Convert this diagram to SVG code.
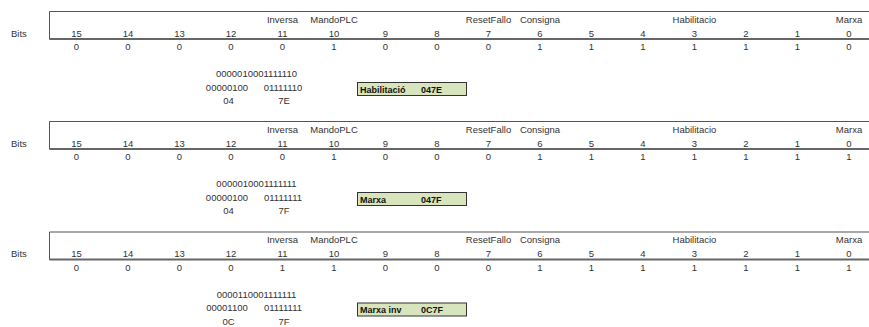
<svg xmlns="http://www.w3.org/2000/svg" width="869" height="327" viewBox="0 0 869 327">
<style>
text{font-family:"Liberation Sans",Arial,sans-serif;font-size:9.5px;fill:#333}
.c{text-anchor:middle}
.b{font-weight:bold;fill:#111;font-size:9px}
.ln{stroke:#555;stroke-width:1;fill:none}
.dl{stroke:#666;stroke-width:1.8;fill:none}
.box{fill:#d8e4bc;stroke:#333;stroke-width:1}
</style>
<defs>
<g id="tbl">
<line class="ln" x1="49.5" y1="11.5" x2="869" y2="11.5"/>
<line class="ln" x1="49.5" y1="11.5" x2="49.5" y2="39.5"/>
<line class="dl" x1="49.5" y1="39" x2="869" y2="39"/>
<text x="11" y="36.5">Bits</text>
<text class="c" x="282.5" y="22.5">Inversa</text>
<text class="c" x="334" y="22.5">MandoPLC</text>
<text class="c" x="488.5" y="22.5">ResetFallo</text>
<text class="c" x="540" y="22.5">Consigna</text>
<text class="c" x="694.5" y="22.5">Habilitacio</text>
<text class="c" x="849" y="22.5">Marxa</text>
<text class="c" x="76.5" y="36.5">15</text>
<text class="c" x="128" y="36.5">14</text>
<text class="c" x="179.5" y="36.5">13</text>
<text class="c" x="231" y="36.5">12</text>
<text class="c" x="282.5" y="36.5">11</text>
<text class="c" x="334" y="36.5">10</text>
<text class="c" x="385.5" y="36.5">9</text>
<text class="c" x="437" y="36.5">8</text>
<text class="c" x="488.5" y="36.5">7</text>
<text class="c" x="540" y="36.5">6</text>
<text class="c" x="591.5" y="36.5">5</text>
<text class="c" x="643" y="36.5">4</text>
<text class="c" x="694.5" y="36.5">3</text>
<text class="c" x="746" y="36.5">2</text>
<text class="c" x="797.5" y="36.5">1</text>
<text class="c" x="849" y="36.5">0</text>
</g>
</defs>

<g id="row1">
<use href="#tbl"/>
<g class="vals">
<text class="c" x="76.5" y="50">0</text><text class="c" x="128" y="50">0</text><text class="c" x="179.5" y="50">0</text><text class="c" x="231" y="50">0</text>
<text class="c" x="282.5" y="50">0</text><text class="c" x="334" y="50">1</text><text class="c" x="385.5" y="50">0</text><text class="c" x="437" y="50">0</text>
<text class="c" x="488.5" y="50">0</text><text class="c" x="540" y="50">1</text><text class="c" x="591.5" y="50">1</text><text class="c" x="643" y="50">1</text>
<text class="c" x="694.5" y="50">1</text><text class="c" x="746" y="50">1</text><text class="c" x="797.5" y="50">1</text><text class="c" x="849" y="50">0</text>
</g>
<text class="c" x="256.5" y="77">0000010001111110</text>
<text class="c" x="227" y="90.5">00000100</text>
<text class="c" x="283" y="90.5">01111110</text>
<text class="c" x="228.5" y="104">04</text>
<text class="c" x="284" y="104">7E</text>
</g>
<g id="box1">
<rect class="box" x="357.5" y="82.5" width="109" height="13"/>
<text class="b" x="360" y="92.5">Habilitació</text>
<text class="b" x="421" y="92.5">047E</text>
</g>

<g id="row2" transform="translate(0,110)">
<use href="#tbl"/>
<g class="vals">
<text class="c" x="76.5" y="50">0</text><text class="c" x="128" y="50">0</text><text class="c" x="179.5" y="50">0</text><text class="c" x="231" y="50">0</text>
<text class="c" x="282.5" y="50">0</text><text class="c" x="334" y="50">1</text><text class="c" x="385.5" y="50">0</text><text class="c" x="437" y="50">0</text>
<text class="c" x="488.5" y="50">0</text><text class="c" x="540" y="50">1</text><text class="c" x="591.5" y="50">1</text><text class="c" x="643" y="50">1</text>
<text class="c" x="694.5" y="50">1</text><text class="c" x="746" y="50">1</text><text class="c" x="797.5" y="50">1</text><text class="c" x="849" y="50">1</text>
</g>
<text class="c" x="256.5" y="77">0000010001111111</text>
<text class="c" x="227" y="90.5">00000100</text>
<text class="c" x="283" y="90.5">01111111</text>
<text class="c" x="228.5" y="104">04</text>
<text class="c" x="284" y="104">7F</text>
</g>
<g id="box2" transform="translate(0,110)">
<rect class="box" x="357.5" y="82.5" width="109" height="13"/>
<text class="b" x="360" y="92.5">Marxa</text>
<text class="b" x="421" y="92.5">047F</text>
</g>

<g id="row3" transform="translate(0,220.5)">
<use href="#tbl"/>
<g class="vals">
<text class="c" x="76.5" y="50">0</text><text class="c" x="128" y="50">0</text><text class="c" x="179.5" y="50">0</text><text class="c" x="231" y="50">0</text>
<text class="c" x="282.5" y="50">1</text><text class="c" x="334" y="50">1</text><text class="c" x="385.5" y="50">0</text><text class="c" x="437" y="50">0</text>
<text class="c" x="488.5" y="50">0</text><text class="c" x="540" y="50">1</text><text class="c" x="591.5" y="50">1</text><text class="c" x="643" y="50">1</text>
<text class="c" x="694.5" y="50">1</text><text class="c" x="746" y="50">1</text><text class="c" x="797.5" y="50">1</text><text class="c" x="849" y="50">1</text>
</g>
<text class="c" x="256.5" y="77">0000110001111111</text>
<text class="c" x="227" y="90.5">00001100</text>
<text class="c" x="283" y="90.5">01111111</text>
<text class="c" x="228.5" y="104">0C</text>
<text class="c" x="284" y="104">7F</text>
</g>
<g id="box3" transform="translate(0,220.5)">
<rect class="box" x="357.5" y="82.5" width="109" height="13"/>
<text class="b" x="360" y="92.5">Marxa inv</text>
<text class="b" x="421" y="92.5">0C7F</text>
</g>

<g id="connectors"/>
</svg>
